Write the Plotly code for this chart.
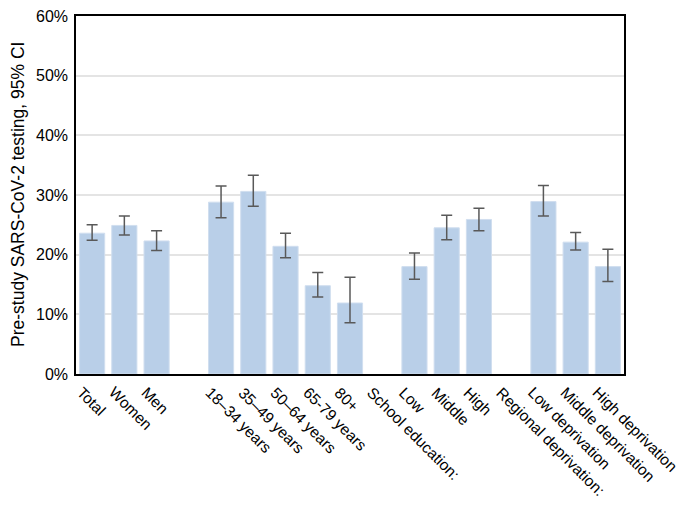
import plotly.graph_objects as go

categories = ["Total", "Women", "Men", " ", "18–34 years", "35–49 years", "50–64 years",
              "65-79 years", "80+", "School education:", "Low", "Middle", "High",
              "Regional deprivation:", "Low deprivation", "Middle deprivation", "High deprivation"]
values = [23.6, 24.9, 22.3, None, 28.8, 30.6, 21.4, 14.8, 11.9, None, 18.0, 24.5, 25.9,
          None, 28.9, 22.1, 18.0]
ci_upper = [25.0, 26.5, 24.0, None, 31.5, 33.3, 23.6, 17.0, 16.2, None, 20.3, 26.6, 27.8,
            None, 31.6, 23.7, 20.9]
ci_lower = [22.4, 23.3, 20.7, None, 26.2, 28.1, 19.5, 12.9, 8.6, None, 15.9, 22.5, 24.0,
            None, 26.5, 20.8, 15.5]
y_title = "Pre-study SARS-CoV-2 testing, 95% CI"

err_plus = [None if v is None else u - v for v, u in zip(values, ci_upper)]
err_minus = [None if v is None else v - l for v, l in zip(values, ci_lower)]

W, H = 677, 496  # page body has an 8px margin; keep the page within 685x512
L, R, T, B = 68, 61, 8, 130

fig = go.Figure(go.Bar(
    x=categories, y=values,
    marker=dict(color="#B9CFE8", line=dict(color="#D0DEEF", width=1)),
    error_y=dict(type="data", symmetric=False, array=err_plus, arrayminus=err_minus,
                 color="#595959", thickness=1.5, width=5.5),
))

fig.update_layout(
    width=W, height=H,
    margin=dict(l=L, r=R, t=T, b=B),
    plot_bgcolor="white", paper_bgcolor="white",
    font=dict(family="Liberation Sans, Arial", size=16, color="black"),
    bargap=0.22, showlegend=False,
)
fig.update_xaxes(
    type="category", categoryorder="array", categoryarray=categories,
    range=[-0.5, len(categories) - 0.5], autorange=False,
    showline=True, linecolor="black", linewidth=1.5,
    mirror=True, ticks="", showgrid=False, showticklabels=False, automargin=False,
)
fig.update_yaxes(
    range=[0, 60], dtick=10, ticksuffix="%", showline=True, linecolor="black", linewidth=1.5,
    mirror=True, showgrid=True, gridcolor="#E4E4E4", gridwidth=1.5, zeroline=False,
    tickfont=dict(size=16), automargin=False, ticklabelstandoff=3,
    ticklabeloverflow="allow",
)

# rotated category labels
for cat in categories:
    if not cat.strip():
        continue
    fig.add_annotation(
        text=cat, textangle=45, xref="x", yref="paper", x=cat, y=0,
        xanchor="left", yanchor="top", xshift=-21, yshift=-7,
        showarrow=False, font=dict(size=15.5),
    )

fig.add_annotation(
    text=y_title, textangle=-90, xref="paper", yref="paper", x=0, y=0.5,
    xshift=-(L - 10), xanchor="center", yanchor="middle", showarrow=False,
    font=dict(size=17.5),
)

fig.write_html("out.html")
